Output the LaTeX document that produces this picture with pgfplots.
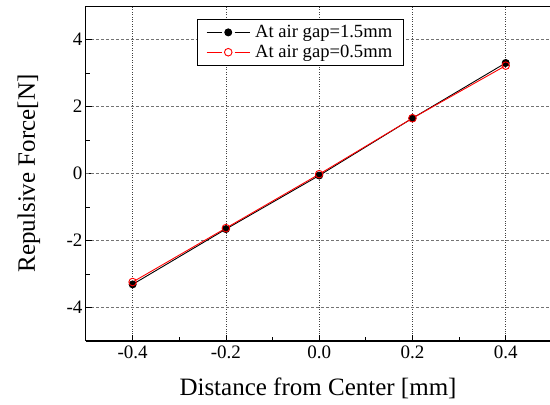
\documentclass[border=0pt]{standalone}
\usepackage{pgfplots}
\pgfplotsset{compat=1.18}
\usepackage{fontspec}
\setmainfont{Liberation Serif}
\begin{document}
\begin{tikzpicture}
\useasboundingbox (0,0) rectangle (550pt,405pt);
\begin{axis}[
    at={(86pt,64pt)}, anchor=south west,
    scale only axis,
    width=464pt, height=335pt,
    xmin=-0.5, xmax=0.495,
    ymin=-5, ymax=5,
    axis x line=box, axis y line=left,
    axis line style={black, line width=1pt, -},
    xtick={-0.4,-0.2,0,0.2,0.4},
    xticklabels={-0.4,-0.2,0.0,0.2,0.4},
    ytick={-4,-2,0,2,4},
    yticklabels={-4,-2,0,2,4},
    minor xtick={-0.3,-0.1,0.1,0.3},
    minor ytick={-3,-1,1,3},
    xtick pos=bottom,
    tick align=inside,
    major tick length=6pt, minor tick length=4pt,
    tick style={black, line width=0.8pt},
    ticklabel style={font=\rmfamily\fontsize{19}{22}\selectfont},
    xticklabel style={yshift=-1pt},
    xmajorgrids, ymajorgrids,
    x grid style={black!75, dotted, line width=0.7pt},
    y grid style={black!55, densely dashed, line width=0.8pt},
    extra y ticks={0}, extra y tick labels={},
    extra y tick style={grid style={black, solid, line width=1pt}, major tick length=0pt},
    xlabel={Distance from Center [mm]},
    ylabel={Repulsive Force[N]},
    label style={font=\rmfamily\fontsize{25}{28}\selectfont},
    xlabel style={at={(axis description cs:0.5,0)}, anchor=base, yshift=-54pt},
    ylabel style={at={(axis description cs:-0.110,0.5)}, anchor=base},
    legend style={at={(0.239,0.961)}, anchor=north west, draw=black, line width=0.8pt,
        font=\rmfamily\fontsize{18.6}{21}\selectfont, inner xsep=9pt, inner ysep=4pt,
        row sep=2pt, column sep=3pt},
    legend cell align=left,
    legend image code/.code={
        \draw[#1, mark=none] (0pt,0pt) -- (15pt,0pt);
        \draw[#1, mark=none] (28pt,0pt) -- (43pt,0pt);
        \draw[#1, only marks] plot coordinates {(21.5pt,0pt)};
    },
]
\addplot[black, line width=0.9pt, mark=*, mark size=3.5pt, mark options={fill=black}]
  coordinates {(-0.4,-3.31) (-0.2,-1.66) (0,-0.06) (0.2,1.65) (0.4,3.30)};
\addplot[red, line width=0.9pt, mark=o, mark size=3.8pt, mark options={fill=white, line width=0.9pt}]
  coordinates {(-0.4,-3.24) (-0.2,-1.63) (0,-0.02) (0.2,1.65) (0.4,3.22)};
\legend{At air gap=1.5mm, At air gap=0.5mm}
\end{axis}
\end{tikzpicture}
\end{document}
